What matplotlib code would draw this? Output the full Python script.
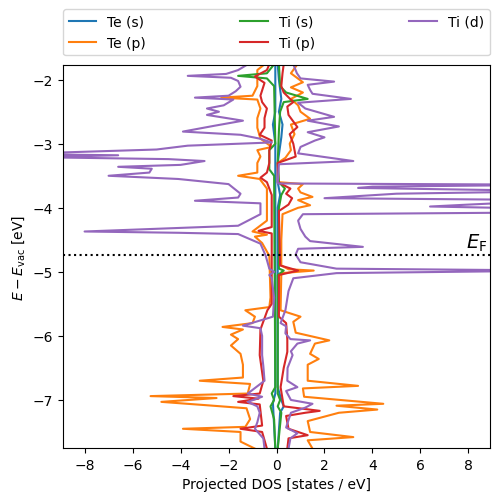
import matplotlib
matplotlib.use("Agg")
import matplotlib.pyplot as plt

# energies [eV] and projected DOS for each orbital, spin up (+) / spin down (-)
te_s_up_E = [-1.76, -2.0, -2.3, -2.5, -2.7, -2.9, -3.3, -3.6, -3.8, -4.0, -6.8, -7.0, -7.1, -7.2, -7.76]
te_s_up = [0.05, 0.1, 0.2, 0.1, 0.25, 0.2, 0.05, 0.05, 0.15, 0.05, 0.05, 0.2, 0.3, 0.15, 0.05]
te_s_dn_E = [-1.76, -2.5, -2.7, -3.0, -6.9, -7.05, -7.76]
te_s_dn = [-0.05, -0.05, -0.15, -0.05, -0.05, -0.15, -0.05]

te_p_up_E = [-1.76, -1.9, -2.04, -2.12, -2.2, -2.3, -2.4, -2.5, -2.61, -2.7, -2.85, -3.0, -3.1,
             -3.22, -3.3, -3.6, -3.63, -3.7, -3.76, -3.83, -3.88, -3.96, -4.0, -4.1, -4.5, -4.9,
             -4.96, -4.98, -5.02, -5.6, -5.7, -5.78, -5.95, -6.07, -6.12, -6.28, -6.36, -6.45,
             -6.7, -6.78, -6.82, -6.95, -7.06, -7.09, -7.15, -7.2, -7.33, -7.5, -7.58, -7.63, -7.76]
te_p_up = [0.87, 0.6, 1.1, 0.6, 1.1, 0.6, 0.9, 1.0, 1.4, 0.6, 0.75, 0.55, 0.6,
           0.37, 0.05, 0.1, 1.1, 0.9, 1.0, 1.5, 0.9, 1.4, 0.9, 0.25, 0.2, 0.2,
           0.5, 1.55, 0.2, 0.17, 1.0, 0.7, 0.8, 2.2, 1.6, 1.4, 1.76, 1.3,
           1.3, 3.4, 1.1, 1.15, 4.45, 2.5, 4.2, 2.6, 1.3, 1.4, 3.2, 1.3, 1.5]
te_p_dn_E = [-1.76, -1.85, -2.0, -2.1, -2.25, -2.28, -2.31, -2.45, -2.6, -2.75, -2.92, -3.05,
             -3.1, -3.2, -3.3, -3.45, -3.5, -3.55, -3.7, -4.2, -4.37, -4.42, -4.45, -4.55, -4.75,
             -5.4, -5.55, -5.6, -5.7, -5.8, -5.86, -5.9, -5.98, -6.05, -6.15, -6.28, -6.45, -6.65,
             -6.7, -6.75, -6.9, -6.94, -6.97, -7.03, -7.08, -7.13, -7.3, -7.42, -7.45, -7.5,
             -7.65, -7.76]
te_p_dn = [-0.5, -0.8, -0.8, -0.8, -1.0, -2.3, -0.8, -0.67, -0.8, -0.8, -0.67, -0.2,
           -0.8, -0.67, -0.8, -0.8, -1.6, -0.7, -0.4, -0.4, -1.0, -0.4, -0.9, -0.6, -0.3,
           -0.25, -0.3, -1.3, -0.9, -1.0, -2.25, -1.4, -1.9, -1.6, -1.9, -1.5, -1.4, -1.4,
           -3.2, -1.1, -1.2, -5.25, -2.5, -4.8, -3.0, -1.25, -1.1, -1.3, -3.9, -1.5,
           -1.5, -0.9]

ti_s_up_E = [-1.76, -2.1, -2.2, -2.3, -2.35, -2.5, -2.8, -3.3, -3.6, -3.7, -3.8, -4.0, -4.95,
             -4.98, -5.05, -6.9, -7.0, -7.1, -7.2, -7.76]
ti_s_up = [0.1, 0.15, 0.4, 1.3, 0.3, 0.15, 0.1, 0.05, 0.1, 0.35, 0.2, 0.1, 0.1,
           0.3, 0.05, 0.05, 0.15, 0.05, 0.2, 0.05]
ti_s_dn_E = [-1.76, -1.9, -1.94, -1.98, -2.1, -3.0, -3.1, -3.4, -3.5, -6.8, -6.9, -7.0, -7.1,
             -7.3, -7.76]
ti_s_dn = [-0.1, -0.4, -1.6, -0.4, -0.1, -0.05, -0.3, -0.3, -0.1, -0.05, -0.2, -0.1, -0.25,
           -0.1, -0.05]

ti_p_up_E = [-1.76, -1.9, -2.1, -2.2, -2.35, -2.42, -2.55, -2.74, -2.85, -3.0, -3.2, -3.3, -3.6,
             -3.7, -3.78, -3.85, -3.95, -4.05, -4.9, -4.98, -5.05, -5.7, -5.8, -6.05, -6.25,
             -6.5, -6.8, -7.1, -7.17, -7.2, -7.25, -7.45, -7.55, -7.6, -7.76]
ti_p_up = [0.3, 0.25, 0.2, 0.3, 0.7, 0.45, 0.5, 0.87, 0.55, 0.7, 0.8, 0.05, 0.05,
           0.58, 0.4, 0.65, 0.5, 0.1, 0.15, 0.9, 0.1, 0.1, 0.4, 0.45, 0.45,
           0.3, 0.17, 0.3, 1.8, 1.2, 0.4, 0.5, 1.3, 0.5, 0.45]
ti_p_dn_E = [-1.76, -1.85, -1.95, -2.05, -2.25, -2.35, -2.45, -2.6, -2.75, -2.86, -2.95, -3.1,
             -3.3, -3.45, -3.53, -3.6, -3.8, -4.3, -4.36, -4.4, -5.5, -5.6, -5.9, -6.3, -6.7,
             -6.9, -6.94, -6.98, -7.03, -7.07, -7.4, -7.45, -7.5, -7.76]
ti_p_dn = [-0.3, -0.4, -0.9, -0.5, -0.67, -0.6, -0.4, -0.5, -0.5, -0.7, -0.2, -0.3,
           -0.3, -0.4, -0.67, -0.4, -0.2, -0.2, -0.75, -0.2, -0.2, -0.38, -0.67, -0.7, -0.55,
           -0.7, -1.8, -0.75, -1.6, -0.7, -0.6, -1.5, -0.6, -0.4]

ti_d_up_E = [-1.76, -1.9, -1.98, -2.03, -2.08, -2.16, -2.22, -2.3, -2.36, -2.45, -2.58, -2.64,
             -2.73, -2.82, -2.9, -2.95, -3.05, -3.15, -3.27, -3.32, -3.62, -3.64, -3.67, -3.69,
             -3.74, -3.78, -3.85, -3.88, -3.95, -3.98, -4.02, -4.07, -4.1, -4.2, -4.33, -4.45,
             -4.52, -4.61, -4.64, -4.73, -4.85, -4.95, -4.98, -5.02, -5.1, -5.3, -5.6, -5.8,
             -5.85, -5.96, -6.05, -6.07, -6.12, -6.24, -6.3, -6.5, -6.7, -6.8, -6.86, -7.0,
             -7.06, -7.12, -7.2, -7.43, -7.52, -7.6, -7.76]
ti_d_up = [0.7, 0.85, 1.0, 2.4, 1.3, 1.4, 1.5, 3.1, 0.9, 1.2, 2.4, 1.3,
           2.6, 1.3, 2.0, 1.6, 1.0, 0.9, 3.2, 0.1, 0.05, 12.0, 4.0, 3.4,
           12.0, 5.0, 2.0, 12.0, 8.0, 6.4, 12.0, 12.0, 1.1, 0.9, 1.0, 1.2,
           1.4, 3.6, 0.9, 0.8, 1.0, 2.5, 12.0, 2.5, 0.7, 0.5, 0.37, 0.17,
           0.4, 0.37, 0.58, 1.4, 0.87, 0.6, 0.67, 0.46, 0.45, 0.87, 0.4, 0.6,
           1.5, 1.2, 0.6, 0.4, 0.87, 0.58, 0.5]
ti_d_dn_E = [-1.76, -1.85, -1.91, -1.94, -1.97, -2.02, -2.11, -2.18, -2.25, -2.28, -2.31, -2.4,
             -2.45, -2.5, -2.55, -2.64, -2.72, -2.81, -2.86, -2.92, -2.98, -3.03, -3.09, -3.16,
             -3.18, -3.21, -3.24, -3.27, -3.33, -3.36, -3.39, -3.45, -3.5, -3.55, -3.63, -3.78,
             -3.84, -3.89, -3.93, -4.1, -4.28, -4.37, -4.39, -4.41, -4.56, -4.75, -4.95, -5.0,
             -5.05, -5.1, -5.4, -5.7, -5.84, -5.88, -6.0, -6.3, -6.47, -6.7, -6.9, -6.95, -7.03,
             -7.1, -7.2, -7.35, -7.45, -7.6, -7.76]
ti_d_dn = [-1.2, -1.6, -2.1, -3.7, -1.9, -1.6, -1.5, -1.7, -2.0, -3.4, -1.8, -2.2,
           -2.9, -2.4, -2.9, -1.4, -2.6, -3.9, -1.5, -0.7, -0.2, -3.7, -5.0, -11.0,
           -6.6, -10.0, -4.5, -3.0, -4.0, -6.6, -5.2, -5.3, -7.0, -4.1, -2.0, -1.5,
           -1.6, -3.4, -0.67, -0.67, -1.6, -8.0, -4.1, -1.6, -0.67, -0.45, -0.3, -0.1,
           -0.3, -0.2, -0.1, -0.15, -1.4, -0.67, -0.6, -0.6, -0.55, -0.5, -1.2, -0.6, -1.2,
           -0.8, -0.7, -0.8, -0.9, -0.55, -0.5]

labels = ["Te (s)", "Te (p)", "Ti (s)", "Ti (p)", "Ti (d)"]
colors = ["C0", "C1", "C2", "C3", "C4"]
up = [(te_s_up_E, te_s_up), (te_p_up_E, te_p_up), (ti_s_up_E, ti_s_up),
      (ti_p_up_E, ti_p_up), (ti_d_up_E, ti_d_up)]
dn = [(te_s_dn_E, te_s_dn), (te_p_dn_E, te_p_dn), (ti_s_dn_E, ti_s_dn),
      (ti_p_dn_E, ti_p_dn), (ti_d_dn_E, ti_d_dn)]
e_fermi = -4.73

fig = plt.figure(figsize=(4.98, 5.02), dpi=100)
ax = fig.add_axes([0.1265, 0.1056, 0.8575, 0.763])

for (eu, du), (ed, dd), lab, c in zip(up, dn, labels, colors):
    ax.plot(du, eu, color=c, label=lab)
    ax.plot(dd, ed, color=c)

ax.axhline(e_fermi, color="k", ls=":")
ax.text(8.8, e_fermi + 0.02, r"$E_\mathrm{F}$", ha="right", va="bottom", fontsize=14)

ax.set_xlim(-8.9, 8.9)
ax.set_ylim(-7.75, -1.77)
ax.set_xlabel("Projected DOS [states / eV]")
ax.set_ylabel(r"$E - E_\mathrm{vac}$ [eV]")
ax.legend(loc="lower left", bbox_to_anchor=(0, 1.025, 1, 0.1), ncol=3,
          mode="expand", borderaxespad=0)

fig.savefig("out.png", dpi=100)
